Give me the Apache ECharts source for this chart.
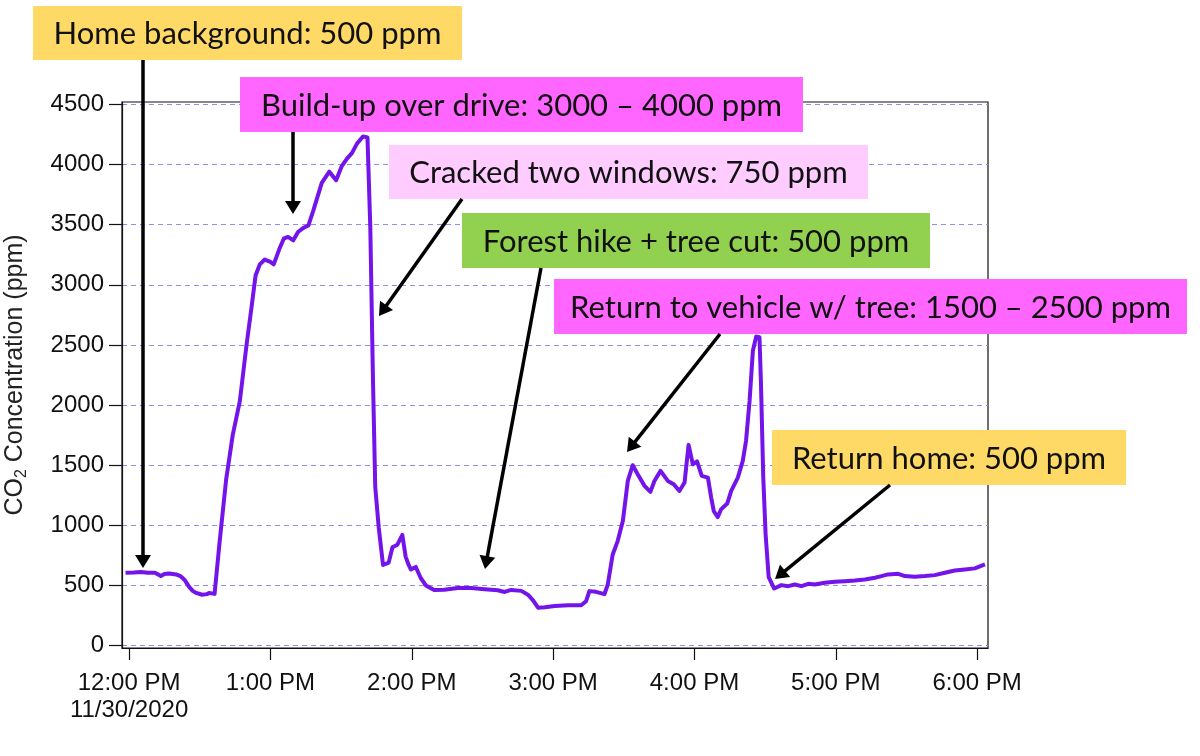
<!DOCTYPE html>
<html><head><meta charset="utf-8">
<script src="https://cdn.jsdelivr.net/npm/echarts@6.0.0/dist/echarts.min.js"></script>
<style>html,body{margin:0;padding:0;background:#fff}#c{width:1200px;height:756px}</style>
</head><body><div id="c"></div>
<script>
// minutes after 12:00 PM, 11/30/2020
const times = [-1.5,2,5,8,11,13.5,15,17,20,22,23.5,25.5,27,28.5,31,33,34,36.3,38.4,41.2,44,47,49.8,51.9,53.7,55.5,57.6,60,61.4,63.7,65.7,67.5,69.7,71.8,73.9,76.1,78.2,81.8,85,87.9,90.3,92.5,94.6,96.7,99.3,101.2,102.4,103.5,104.5,106,107.8,110.2,111.8,113.9,116,117.4,118.5,119.6,121.7,123.8,126,129.5,133.8,139.5,145.2,150.9,156.5,159.4,162.2,166.5,169.3,171.5,173.6,176.5,180.7,186.4,191.9,194,195.4,198.2,201.8,203.2,205.3,207.4,209.6,211.7,213.8,215.9,218.8,221.3,223,225.6,228.7,231.2,233.6,235.8,237.5,239.3,241.1,243.1,245.7,247.1,248.2,249.9,251.3,253.9,255.6,258.4,260.5,261.9,263.4,264.8,266.2,267.6,268.2,269.2,270.2,271.5,273.8,276.9,279.8,282.6,285.4,288.3,291.1,295.3,299.6,303.8,308.1,312.3,316.6,319.4,322.2,326.5,329.3,333.5,337.8,342,346.3,350.5,354.8,359,363.3];
// CO2 concentration, ppm
const co2 = [605,608,612,605,606,578,595,600,592,575,548,488,455,438,423,428,438,430,855,1380,1750,2030,2490,2800,3077,3170,3210,3190,3170,3293,3385,3398,3370,3441,3472,3493,3617,3848,3941,3870,3987,4049,4095,4172,4234,4225,3478,2244,1318,978,670,690,818,839,920,740,680,633,654,562,500,462,465,478,478,468,460,446,463,455,423,376,315,318,330,336,335,369,453,447,428,508,758,869,1036,1369,1500,1425,1328,1278,1369,1453,1369,1342,1286,1356,1669,1508,1531,1411,1397,1231,1119,1069,1133,1181,1286,1397,1536,1703,2036,2453,2570,2564,2200,1400,925,570,475,503,494,508,494,514,508,522,530,536,542,550,564,578,592,597,578,572,578,586,606,625,633,642,675];
const xTickValues = [0,60,120,180,240,300,360];
const xTickLabels = ['12:00 PM\n11/30/2020','1:00 PM','2:00 PM','3:00 PM','4:00 PM','5:00 PM','6:00 PM'];
const yTickValues = [0,500,1000,1500,2000,2500,3000,3500,4000,4500];
const yTickLabels = ['0','500','1000','1500','2000','2500','3000','3500','4000','4500'];
const noteTexts = ['Home background: 500 ppm','Build-up over drive: 3000 \u2013 4000 ppm','Cracked two windows: 750 ppm','Forest hike + tree cut: 500 ppm','Return to vehicle w/ tree: 1500 \u2013 2500 ppm','Return home: 500 ppm'];
const noteColors = ['#FFD966','#FF66FF','#FFCCFF','#92D050','#FF66FF','#FFD966'];

// annotation layout (pixels): box [x,y,w,h], arrow [x1,y1,x2,y2]
const noteBoxes = [[33,6,429,54],[240,77,563,55],[389,145,479,54],[462,213,468,55],[554,279,633,55],[772,430,354,55]];
const noteArrows = [[143,60,143,568],[293,132,293,214],[462,199,379,316],[541,268,485,569],[720,334,627,452],[890,485,775,579]];

const chart = echarts.init(document.getElementById('c'), null, {renderer:'canvas'});
const graphics = [];
noteTexts.forEach((t,i)=>{
  const b = noteBoxes[i];
  graphics.push({type:'rect', z:100, shape:{x:b[0],y:b[1],width:b[2],height:b[3]}, style:{fill:noteColors[i]}});
  graphics.push({type:'text', z:101, style:{text:t, x:b[0]+b[2]/2, y:b[1]+b[3]/2+1, fill:'#111', font:'31px Lato', textAlign:'center', textVerticalAlign:'middle'}});
});
noteArrows.forEach(a=>{
  const [x1,y1,x2,y2] = a;
  const dx = x2-x1, dy = y2-y1, L = Math.hypot(dx,dy);
  const ux = dx/L, uy = dy/L, hl = 13, hw = 8;
  const bx = x2-ux*hl, by = y2-uy*hl;
  graphics.push({type:'line', z:102, shape:{x1:x1,y1:y1,x2:bx+ux*2,y2:by+uy*2}, style:{stroke:'#000',lineWidth:3.5}});
  graphics.push({type:'polygon', z:102, shape:{points:[[x2,y2],[bx-uy*hw,by+ux*hw],[bx+uy*hw,by-ux*hw]]}, style:{fill:'#000'}});
});

chart.setOption({
  animation:false,
  backgroundColor:'#fff',
  grid:{left:122,right:212,top:102,bottom:108,outerBoundsMode:'none',containLabel:false,show:true,borderColor:'#111',borderWidth:1.2,backgroundColor:'transparent'},
  xAxis:{type:'value',min:-3,max:364.6,
    axisLine:{show:true,onZero:false,lineStyle:{color:'#111',width:1.2}},
    axisTick:{show:true,customValues:xTickValues,length:12,lineStyle:{color:'#111',width:1.2}},
    axisLabel:{customValues:xTickValues,margin:22,fontFamily:'Liberation Sans',fontSize:24,color:'#111',lineHeight:27,
      formatter:v=>xTickLabels[xTickValues.indexOf(v)]},
    splitLine:{show:false}},
  yAxis:{type:'value',min:-20,max:4520,
    name:'CO{sub|2} Concentration (ppm)',nameLocation:'middle',nameGap:92,nameRotate:90,
    nameTextStyle:{fontFamily:'Liberation Sans',fontSize:25,color:'#222',lineHeight:30,rich:{sub:{fontFamily:'Liberation Sans',fontSize:16,color:'#222',verticalAlign:'bottom',lineHeight:24}}},
    axisLine:{show:true,onZero:false,lineStyle:{color:'#111',width:1.2}},
    axisTick:{show:true,customValues:yTickValues,length:13,lineStyle:{color:'#111',width:1.2}},
    axisLabel:{customValues:yTickValues,margin:18,fontFamily:'Liberation Sans',fontSize:24,color:'#111',
      formatter:v=>yTickLabels[yTickValues.indexOf(v)]},
    splitLine:{show:true,lineStyle:{color:'#8E8EEA',type:[5,4],width:1}}},
  series:[{type:'line',data:times.map((t,i)=>[t,co2[i]]),showSymbol:false,smooth:false,
    lineStyle:{color:'#7314EB',width:4,join:'round'},itemStyle:{color:'#7314EB'},z:5}],
  graphic:graphics
});
</script></body></html>
